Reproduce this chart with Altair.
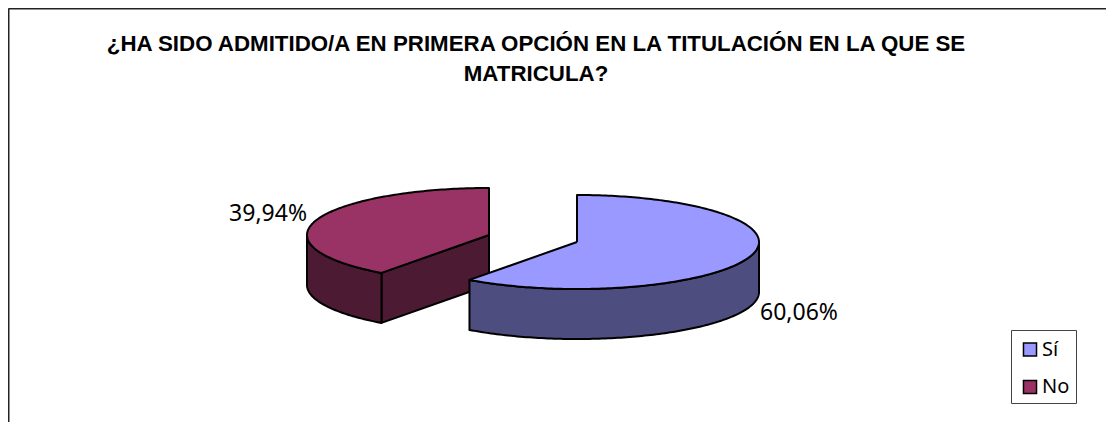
import math
import altair as alt
import pandas as pd

categories = ["Sí", "No"]
values = [60.06, 39.94]
labels = ["60,06%", "39,94%"]
top_colors = ["#9999FF", "#993366"]
side_colors = ["#4D4D80", "#4D1A33"]
title_lines = ["¿HA SIDO ADMITIDO/A EN PRIMERA OPCIÓN EN LA TITULACIÓN EN LA QUE SE", "MATRICULA?"]

W, H = 1098, 414
# projection of the tilted pie, in the plot's own units
centers = {"Sí": (569, 234), "No": (481, 227)}
RX, RY, DEPTH = 182, 47, 50
share = 360 * values[0] / sum(values)
spans = {"Sí": (0, share), "No": (share, 360)}


def rim(cat, a, drop=0):
    cx, cy = centers[cat]
    r = math.radians(a)
    return (cx + RX * math.sin(r), cy - RY * math.cos(r) + drop)


def arc(cat, a0, a1, drop=0):
    n = max(2, int(abs(a1 - a0)))
    return [rim(cat, a0 + (a1 - a0) * i / n, drop) for i in range(n + 1)]


def faces(cat):
    a0, a1 = spans[cat]
    c = centers[cat]
    c_low = (c[0], c[1] + DEPTH)
    out = []
    if cat == "No":
        # cut face between the centre and the near rim point
        out.append(("cut", [rim(cat, a0), c, c_low, rim(cat, a0, DEPTH)], "side"))
        out.append(("rim", arc(cat, a0, 270) + arc(cat, 270, a0, DEPTH), "side"))
    else:
        out.append(("rim", arc(cat, 90, a1) + arc(cat, a1, 90, DEPTH), "side"))
    out.append(("top", [c] + arc(cat, a0, a1), "top"))
    return out


rows = []
seq = 0
for cat in ["No", "Sí"]:
    for name, pts, kind in faces(cat):
        seq += 1
        pts = pts + [pts[0]]
        for i, (x, y) in enumerate(pts):
            rows.append({"x": x, "y": y, "i": i, "face": f"{seq:02d}", "cat": cat, "kind": kind})
poly = pd.DataFrame(rows)

xs = alt.Scale(domain=[0, W], range=[0, W])
ys = alt.Scale(domain=[0, H], range=[0, H])


def face_layer(cat, kind, color):
    d = poly[(poly.cat == cat) & (poly.kind == kind)]
    return (
        alt.Chart(d)
        .mark_line(fill=color, stroke="black", strokeWidth=2, strokeJoin="round", interpolate="linear")
        .encode(
            x=alt.X("x:Q", scale=xs, axis=None),
            y=alt.Y("y:Q", scale=ys, axis=None),
            detail="face:N",
            order="i:Q",
        )
    )


layers = []
for idx in [1, 0]:
    c = categories[idx]
    layers.append(face_layer(c, "side", side_colors[idx]))
    layers.append(face_layer(c, "top", top_colors[idx]))

# frame (only the top and left edges fall inside the picture)
frame = [
    alt.Chart(pd.DataFrame({"a": [0]})).mark_rule(color="#222222", strokeWidth=2).encode(
        x=alt.value(0.5), x2=alt.value(W), y=alt.value(0.5)
    ),
    alt.Chart(pd.DataFrame({"a": [0]})).mark_rule(color="#222222", strokeWidth=2).encode(
        y=alt.value(0.5), y2=alt.value(H), x=alt.value(0.5)
    ),
]

# percentage labels
lab = pd.DataFrame({"t": labels, "x": [752, 299], "y": [305, 206], "a": ["left", "right"]})
label_layers = [
    alt.Chart(lab[lab.a == a]).mark_text(font="Noto Sans", fontSize=23, align=a, baseline="middle", color="black").encode(
        x=alt.X("x:Q", scale=xs, axis=None), y=alt.Y("y:Q", scale=ys, axis=None), text="t:N"
    )
    for a in ["left", "right"]
]

# legend driven by the categories
leg = (
    alt.Chart(pd.DataFrame({"c": categories}))
    .mark_square(opacity=0, size=0)
    .encode(
        color=alt.Color(
            "c:N",
            scale=alt.Scale(domain=categories, range=top_colors),
            sort=categories,
            legend=alt.Legend(
                title=" ",
                titleFontSize=1,
                titlePadding=2.5,
                orient="none",
                legendX=1003,
                legendY=322,
                strokeColor="#444444",
                fillColor="white",
                padding=6,
                symbolType="square",
                symbolSize=170,
                symbolOpacity=1,
                symbolOffset=3,
                symbolStrokeColor="black",
                symbolStrokeWidth=1.5,
                labelFont="Noto Sans",
                labelFontSize=20,
                labelColor="black",
                rowPadding=17.5,
                labelOffset=2,
            ),
        )
    )
)

chart = (
    alt.layer(*frame, *layers, *label_layers, leg)
    .properties(
        width=W,
        height=H,
        padding=0,
        autosize=alt.AutoSizeParams(type="none"),
        title=alt.TitleParams(
            text=title_lines,
            font="Liberation Sans",
            fontSize=22.3,
            fontWeight="bold",
            color="black",
            anchor="middle",
            frame="group",
            dx=-21,
            offset=-78,
            lineHeight=30,
        ),
    )
    .configure_view(stroke=None)
    .configure(background="white")
)

chart.save("out.html", embed_options={"renderer": "svg", "actions": False})
